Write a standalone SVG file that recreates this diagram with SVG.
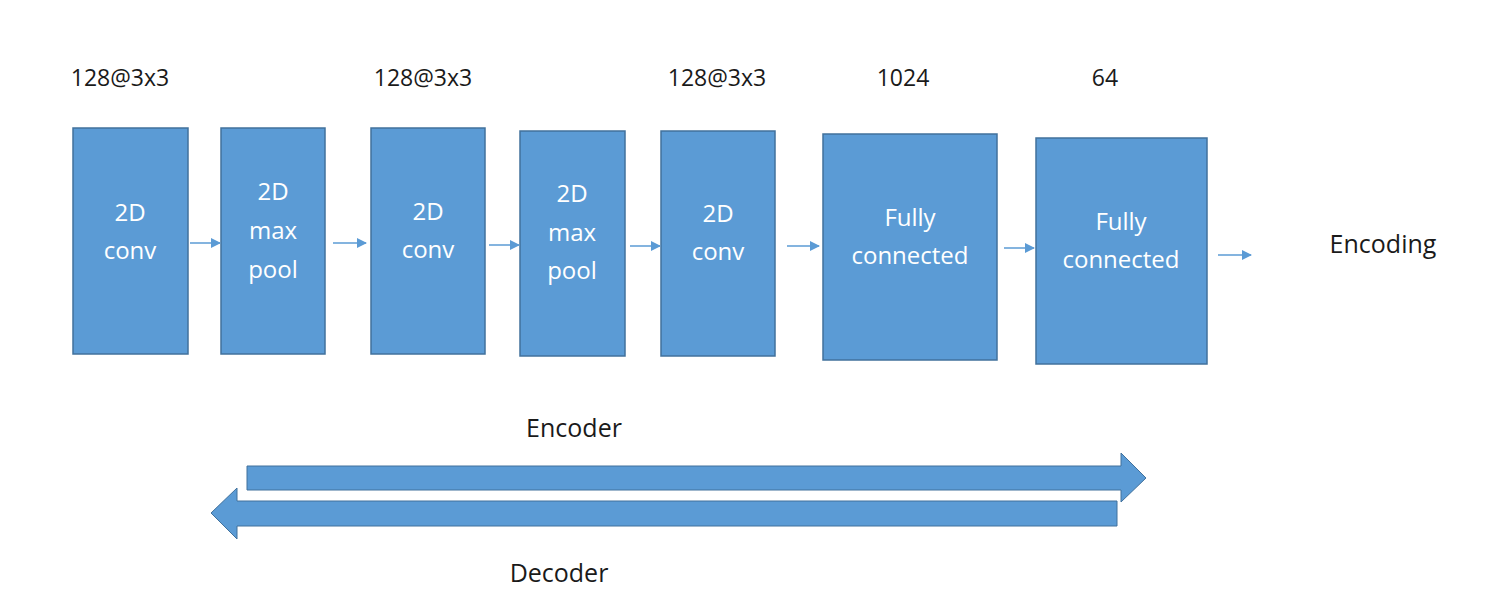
<svg xmlns="http://www.w3.org/2000/svg" width="1502" height="602" viewBox="0 0 1502 602">
<defs>
<style>
.box{fill:#5B9BD5;stroke:#41719C;stroke-width:1.5}
.bt{font-family:"Open Sans","Liberation Sans",sans-serif;font-size:24px;fill:#FFFFFF;text-anchor:middle}
.lbl{font-family:"Open Sans","Liberation Sans",sans-serif;font-size:23px;fill:#1A1A1A;text-anchor:middle}
.big{font-family:"Open Sans","Liberation Sans",sans-serif;font-size:25px;fill:#1A1A1A;text-anchor:middle}
.con{stroke:#5B9BD5;stroke-width:1.5;fill:none;marker-end:url(#ah)}
.band{fill:#5B9BD5;stroke:#41719C;stroke-width:1}
</style>
<marker id="ah" markerWidth="10" markerHeight="10" refX="9" refY="5" orient="auto" markerUnits="userSpaceOnUse">
<path d="M0,0 L10,5 L0,10 Z" fill="#5B9BD5"/>
</marker>
</defs>
<rect width="1502" height="602" fill="#FFFFFF"/>

<g id="labels">
<text class="lbl" x="120" y="86">128@3x3</text>
<text class="lbl" x="423" y="86">128@3x3</text>
<text class="lbl" x="717" y="86">128@3x3</text>
<text class="lbl" x="903" y="86">1024</text>
<text class="lbl" x="1105" y="86">64</text>
</g>

<g id="n1"><rect class="box" x="73" y="128" width="115" height="226"/>
<text class="bt" x="130" y="221">2D</text><text class="bt" x="130" y="259">conv</text></g>
<g id="n2"><rect class="box" x="221" y="128" width="104" height="226"/>
<text class="bt" x="273" y="200">2D</text><text class="bt" x="273" y="239">max</text><text class="bt" x="273" y="278">pool</text></g>
<g id="n3"><rect class="box" x="371" y="128" width="114" height="226"/>
<text class="bt" x="428" y="220">2D</text><text class="bt" x="428" y="258">conv</text></g>
<g id="n4"><rect class="box" x="520" y="131" width="105" height="225"/>
<text class="bt" x="572" y="202">2D</text><text class="bt" x="572" y="241">max</text><text class="bt" x="572" y="279">pool</text></g>
<g id="n5"><rect class="box" x="661" y="131" width="114" height="225"/>
<text class="bt" x="718" y="222">2D</text><text class="bt" x="718" y="260">conv</text></g>
<g id="n6"><rect class="box" x="823" y="134" width="174" height="226"/>
<text class="bt" x="910" y="226">Fully</text><text class="bt" x="910" y="264">connected</text></g>
<g id="n7"><rect class="box" x="1036" y="138" width="171" height="226"/>
<text class="bt" x="1121" y="230">Fully</text><text class="bt" x="1121" y="268">connected</text></g>
<g id="encoding"><text class="big" x="1383" y="253">Encoding</text></g>

<g id="connectors">
<line class="con" x1="190" y1="243" x2="220" y2="243"/>
<line class="con" x1="333" y1="243" x2="366" y2="243"/>
<line class="con" x1="489" y1="245" x2="519" y2="245"/>
<line class="con" x1="630" y1="246" x2="660" y2="246"/>
<line class="con" x1="787" y1="246" x2="819" y2="246"/>
<line class="con" x1="1004" y1="248" x2="1034" y2="248"/>
<line class="con" x1="1218" y1="255" x2="1251" y2="255"/>
</g>

<g id="encoder">
<path class="band" d="M247,466 L1121,466 L1121,453 L1146,478 L1121,502 L1121,490 L247,490 Z"/>
<text class="big" x="574" y="437">Encoder</text>
</g>
<g id="decoder">
<path class="band" d="M1117,501 L237,501 L237,488 L211,513 L237,539 L237,526 L1117,526 Z"/>
<text class="big" x="559" y="582">Decoder</text>
</g>
</svg>
